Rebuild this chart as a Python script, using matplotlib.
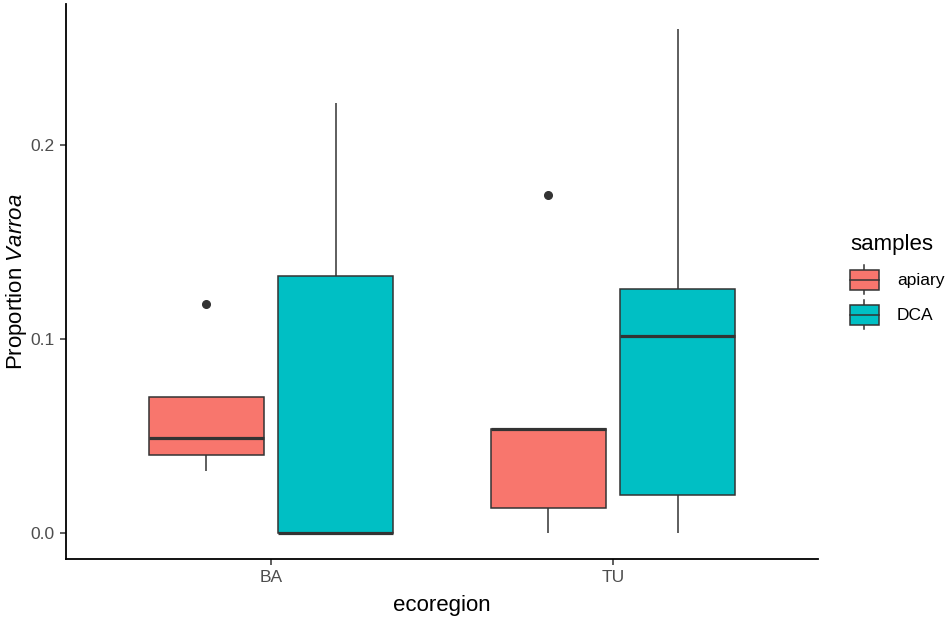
import matplotlib
matplotlib.use("Agg")
import matplotlib.pyplot as plt
from matplotlib.patches import Rectangle
from matplotlib.lines import Line2D
from matplotlib.legend_handler import HandlerBase

# ---------------- data ----------------
categories = ["BA", "TU"]
groups = ["apiary", "DCA"]
colors = ["#F8766D", "#00BFC4"]
# indexed [category][group]
whislo = [[0.0322, 0.0000], [0.0000, 0.0000]]
q1 = [[0.0401, 0.0000], [0.0130, 0.0196]]
med = [[0.0492, 0.0000], [0.0535, 0.1016]]
q3 = [[0.0700, 0.1325], [0.0538, 0.1255]]
whishi = [[0.0700, 0.2213], [0.0538, 0.2594]]
fliers = [[[0.1178], []], [[0.1740], []]]
yticks = [0.0, 0.1, 0.2]
yticklabels = ["0.0", "0.1", "0.2"]

plt.rcParams['font.family'] = ['Liberation Sans', 'DejaVu Sans']
plt.rcParams['mathtext.fontset'] = 'custom'
plt.rcParams['mathtext.rm'] = 'Liberation Sans'
plt.rcParams['mathtext.it'] = 'Liberation Sans:italic'

edge = "#333333"
fig = plt.figure(figsize=(9.52, 6.2), dpi=100)
ax = fig.add_axes([66 / 952, 1 - 559 / 620, (818 - 66) / 952, (559 - 4) / 620])

dodge = 0.189
bw = 0.337
for gi, g in enumerate(groups):
    stats = []
    pos = []
    for ci, c in enumerate(categories):
        stats.append(dict(whislo=whislo[ci][gi], q1=q1[ci][gi], med=med[ci][gi],
                          q3=q3[ci][gi], whishi=whishi[ci][gi], fliers=fliers[ci][gi]))
        pos.append(ci + 1 + (gi - 0.5) * 2 * dodge)
    ax.bxp(stats, positions=pos, widths=bw, patch_artist=True, showcaps=False,
           boxprops=dict(facecolor=colors[gi], edgecolor=edge, linewidth=1.1),
           medianprops=dict(color=edge, linewidth=2.3, solid_capstyle='butt'),
           whiskerprops=dict(color=edge, linewidth=1.1, solid_capstyle='butt'),
           flierprops=dict(marker='o', markerfacecolor=edge, markeredgecolor=edge,
                           markersize=5.5, linestyle='none'),
           manage_ticks=False)

ax.set_xlim(0.4, 2.6)
ax.set_ylim(-0.0132, 0.2723)
ax.set_xticks([1, 2])
ax.set_xticklabels(categories)
ax.set_yticks(yticks)
ax.set_yticklabels(yticklabels)
for s in ["top", "right"]:
    ax.spines[s].set_visible(False)
for s in ["left", "bottom"]:
    ax.spines[s].set_linewidth(1.3)
    ax.spines[s].set_color("black")
ax.tick_params(axis='both', length=4, width=1.1, color=edge, labelcolor="#4D4D4D",
               labelsize=12.5, pad=4)
ax.set_xlabel("ecoregion", fontsize=16, labelpad=7)
ax.set_ylabel("Proportion $\\mathit{Varroa}$", fontsize=16, labelpad=1)


class BoxHandler(HandlerBase):
    def create_artists(self, legend, orig_handle, xdescent, ydescent, width, height, fontsize, trans):
        fc = orig_handle.get_facecolor()
        x0 = -xdescent
        y0 = -ydescent
        arts = []
        cx = x0 + width / 2
        arts.append(Line2D([cx, cx], [y0, y0 + height], color=edge, lw=1.1, transform=trans))
        r = Rectangle((x0, y0 + 0.15 * height), width, 0.7 * height, facecolor=fc,
                      edgecolor=edge, lw=1.1, transform=trans)
        arts.append(r)
        arts.append(Line2D([x0, x0 + width], [y0 + height / 2] * 2, color=edge, lw=1.1,
                           transform=trans))
        return arts


handles = [Rectangle((0, 0), 1, 1, facecolor=c) for c in colors]
leg = fig.legend(handles, groups, loc='upper left', bbox_to_anchor=(850 / 952, 1 - 234 / 620),
                 frameon=False, title="samples", title_fontsize=16, fontsize=12.5,
                 handlelength=1.65, handleheight=2.2, labelspacing=0.35, handletextpad=1.05,
                 borderpad=0, borderaxespad=0, alignment='left',
                 handler_map={Rectangle: BoxHandler()})
leg._legend_box.sep = leg._legend_box.sep + 3.0

fig.savefig("out.png", dpi=100)
